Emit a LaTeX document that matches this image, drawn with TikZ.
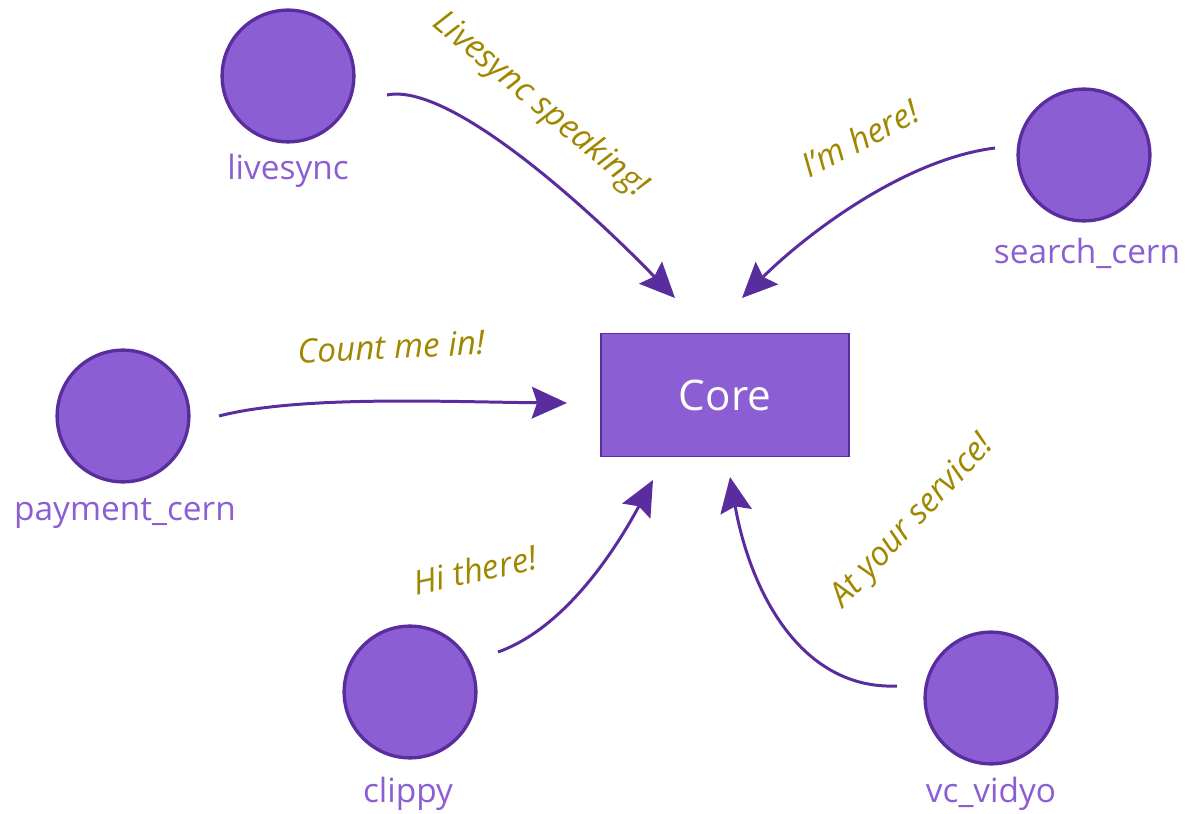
\documentclass[tikz,border=0pt]{standalone}
\usepackage{fontspec}
\setmainfont{Open Sans}
\usetikzlibrary{arrows.meta}
\definecolor{nodefill}{HTML}{8B5FD3}
\definecolor{nodeedge}{HTML}{5A2D9F}
\definecolor{msg}{HTML}{A08700}
\tikzset{
  svc/.style={circle, fill=nodefill, draw=nodeedge, line width=1.9pt, minimum size=75pt, inner sep=0pt},
  svclabel/.style={text=nodefill, font=\fontsize{19}{23}\selectfont, inner sep=0pt},
  corebox/.style={rectangle, fill=nodefill, draw=nodeedge, line width=0.8pt, minimum width=141pt, minimum height=70pt, text=white, font=\fontsize{24}{28}\selectfont},
  msgtext/.style={text=msg, font=\itshape\fontsize{19}{23}\selectfont, inner sep=0pt},
  conn/.style={draw=nodeedge, line width=1.7pt, -{Stealth[length=20pt, width=18pt, inset=3pt]}}
}
\begin{document}
\begin{tikzpicture}[x=0.02cm, y=-0.02cm]
\useasboundingbox (0,0) rectangle (1188,814);
% nodes
\node[corebox] (core) at (725,395) {Core};
\node[svc] (livesync) at (288,76) {};
\node[svc] (search) at (1084,155) {};
\node[svc] (payment) at (123,416) {};
\node[svc] (clippy) at (410,692) {};
\node[svc] (vidyo) at (991,698) {};
% labels
\node[svclabel] (livesyncL) at (288,171) {livesync};
\node[svclabel] (searchL) at (1087,253) {search\_cern};
\node[svclabel] (paymentL) at (125,514) {payment\_cern};
\node[svclabel] (clippyL) at (408,794) {clippy};
\node[svclabel] (vidyoL) at (991,794) {vc\_vidyo};
% connector end points
\coordinate (ls-out) at (387,95);
\coordinate (ls-in) at (675,298);
\coordinate (sc-out) at (995,148);
\coordinate (sc-in) at (742,298);
\coordinate (pc-out) at (219,416);
\coordinate (pc-in) at (567,403);
\coordinate (cl-out) at (498,652);
\coordinate (cl-in) at (653,480);
\coordinate (vv-out) at (897,686);
\coordinate (vv-in) at (730,477);
% connectors
\draw[conn] (ls-out) .. controls (450,82) and (590,210) .. (ls-in);
\draw[conn] (sc-out) .. controls (900,160) and (800,240) .. (sc-in);
\draw[conn] (pc-out) .. controls (300,395) and (450,402) .. (pc-in);
\draw[conn] (cl-out) .. controls (560,630) and (610,560) .. (cl-in);
\draw[conn] (vv-out) .. controls (800,690) and (750,590) .. (vv-in);
% messages
\node[msgtext, rotate=-40] (m1) at (540,105) {Livesync speaking!};
\node[msgtext, rotate=28] (m2) at (860,138) {I'm here!};
\node[msgtext, rotate=3] (m3) at (391,347) {Count me in!};
\node[msgtext, rotate=12] (m4) at (475,570) {Hi there!};
\node[msgtext, rotate=47] (m5) at (913,522) {At your service!};
\end{tikzpicture}
\end{document}
